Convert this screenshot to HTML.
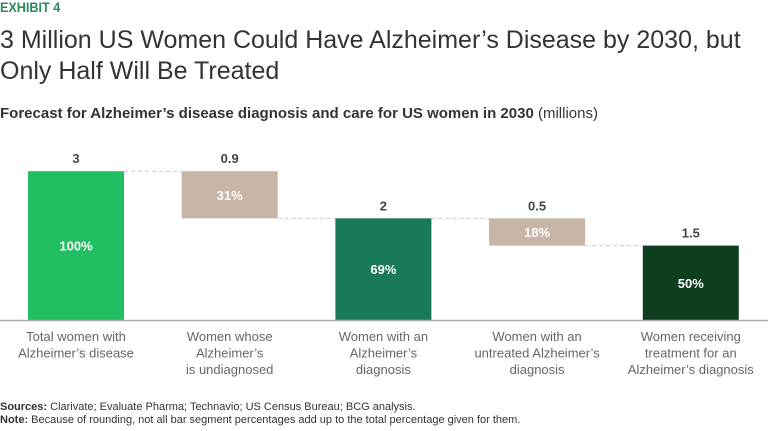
<!DOCTYPE html>
<html><head><meta charset="utf-8"><style>
body{margin:0;width:768px;height:431px;overflow:hidden;background:#fff;font-family:"Liberation Sans",sans-serif;position:relative}
.abs{position:absolute;white-space:nowrap}
</style></head><body>
<div class="abs" style="left:0;top:-1px;font-size:14px;font-weight:bold;color:#2a8a5a;transform:scaleX(0.9);transform-origin:left">EXHIBIT 4</div>
<div class="abs" style="left:0;top:25px;font-size:25px;line-height:31px;color:#333;letter-spacing:0px">3 Million US Women Could Have Alzheimer’s Disease by 2030, but<br>Only Half Will Be Treated</div>
<div class="abs" style="left:0;top:105px;font-size:15px;color:#333"><b>Forecast for Alzheimer’s disease diagnosis and care for US women in 2030</b> (millions)</div>
<svg id="chart" width="768" height="400" style="position:absolute;left:0;top:0"></svg>
<div class="abs" style="left:0;top:401px;font-size:11px;color:#333"><b>Sources:</b> Clarivate; Evaluate Pharma; Technavio; US Census Bureau; BCG analysis.</div>
<div class="abs" style="left:0;top:414px;font-size:11px;color:#333"><b>Note:</b> Because of rounding, not all bar segment percentages add up to the total percentage given for them.</div>
<script>
const categories=[["Total women with","Alzheimer’s disease"],["Women whose","Alzheimer’s","is undiagnosed"],["Women with an","Alzheimer’s","diagnosis"],["Women with an","untreated Alzheimer’s","diagnosis"],["Women receiving","treatment for an","Alzheimer’s diagnosis"]];
const values=[3,0.95,2.05,0.55,1.5];
const valueLabels=["3","0.9","2","0.5","1.5"];
const percentLabels=["100%","31%","69%","18%","50%"];
const kinds=["total","decrease","total","decrease","total"];
const colors=["#21bf61","#c7b6a6","#197a56","#c7b6a6","#0e3e1f"];
const svg=document.getElementById('chart');const NS="http://www.w3.org/2000/svg";
const base=320, ppu=49.6, bw=96;
const y=v=>base-v*ppu; const x=i=>28+i*153.7;
function mk(t,a){const e=document.createElementNS(NS,t);for(const k in a)e.setAttribute(k,a[k]);svg.appendChild(e);return e;}
let run=0;const tops=[],bots=[];
values.forEach((v,i)=>{let top,bot;if(kinds[i]==="total"){top=v;bot=0;run=v;}else{top=run;bot=run-v;run=bot;}tops.push(top);bots.push(bot);});
values.forEach((v,i)=>{
 if(i>0){const lvl=tops[i];const l=mk('line',{x1:x(i-1)+bw,x2:x(i),y1:y(lvl),y2:y(lvl),stroke:'#ccc','stroke-dasharray':'4,3'});}
 const r=mk('rect',{x:x(i),y:y(tops[i]),width:bw,height:y(bots[i])-y(tops[i]),fill:colors[i]});
 
 
 const vl=mk('text',{x:x(i)+bw/2,y:y(tops[i])-8,'text-anchor':'middle','font-size':13,'font-weight':'bold',fill:'#444'});vl.textContent=valueLabels[i];
 
 
 const pl=mk('text',{x:x(i)+bw/2,y:(y(tops[i])+y(bots[i]))/2+5,'text-anchor':'middle','font-size':13,'font-weight':'bold',fill:'#fff'});pl.textContent=percentLabels[i];
 
 
 categories[i].forEach((s,j)=>{const t=mk('text',{x:x(i)+bw/2,y:341+j*16.5,'text-anchor':'middle','font-size':13,fill:'#666'});t.textContent=s;
 
 });
});
const ax=mk('line',{x1:0,x2:768,y1:base+0.5,y2:base+0.5,stroke:'#aaa','stroke-width':1.5});


</script>
</body></html>
